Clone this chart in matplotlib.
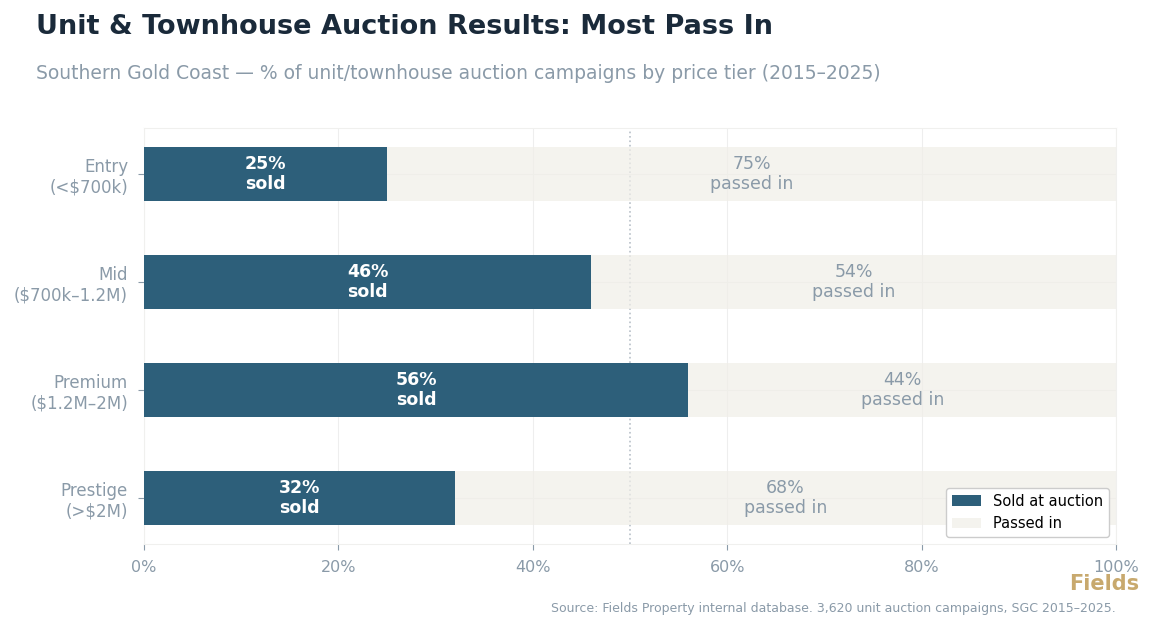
import matplotlib.pyplot as plt
from matplotlib.ticker import PercentFormatter

plt.rcParams["font.family"] = ["DejaVu Sans"]

# Data
tiers = ["Entry\n(<$700k)", "Mid\n($700k\u20131.2M)", "Premium\n($1.2M\u20132M)", "Prestige\n(>$2M)"]
sold = [25, 46, 56, 32]
passed = [75, 54, 44, 68]

navy = "#2d5f7a"
cream = "#f0eee8"
grey = "#8a9aa8"

fig = plt.figure(figsize=(11.54, 6.31), dpi=100)
ax = fig.add_axes([0.1248, 0.138, 0.8423, 0.659])

y = range(len(tiers))
ax.barh(y, sold, height=0.5, color=navy, label="Sold at auction", zorder=3)
ax.barh(y, passed, left=sold, height=0.5, color=cream, alpha=0.7, label="Passed in", zorder=3)

for i in y:
    ax.text(sold[i] / 2, i, f"{sold[i]}%\nsold", ha="center", va="center",
            color="white", fontsize=12.5, fontweight="bold", zorder=4)
    ax.text(sold[i] + passed[i] / 2, i, f"{passed[i]}%\npassed in", ha="center", va="center",
            color=grey, fontsize=12.5, zorder=4)

ax.axvline(50, color="#b8c0c8", linestyle=":", linewidth=1.2, zorder=1)

ax.set_xlim(0, 100)
ax.invert_yaxis()
ax.set_yticks(list(y))
ax.set_yticklabels(tiers)
ax.xaxis.set_major_formatter(PercentFormatter(decimals=0))
ax.tick_params(colors=grey, labelcolor=grey, length=4, pad=7.5)
ax.tick_params(axis="x", labelsize=11.5)
ax.tick_params(axis="y", labelsize=12)
ax.grid(True, color="#eeeeee", linewidth=0.8, zorder=0)
ax.set_axisbelow(True)
for s in ax.spines.values():
    s.set_color("#f0f0ee")

ax.legend(loc="lower right", fontsize=10.5, framealpha=1, edgecolor="#cccccc")

fig.text(0.031, 0.957, "Unit & Townhouse Auction Results: Most Pass In", fontsize=19.5,
         fontweight="bold", color="#1a2a3a", va="center")
fig.text(0.031, 0.883, "Southern Gold Coast \u2014 % of unit/townhouse auction campaigns by price tier (2015\u20132025)",
         fontsize=13.5, color=grey, va="center")
fig.text(0.987, 0.074, "Fields", fontsize=15, fontweight="bold", color="#c8a96e", ha="right", va="center")
fig.text(0.967, 0.035, "Source: Fields Property internal database. 3,620 unit auction campaigns, SGC 2015\u20132025.",
         fontsize=9, color=grey, ha="right", va="center")

fig.savefig("out.png", dpi=100)
